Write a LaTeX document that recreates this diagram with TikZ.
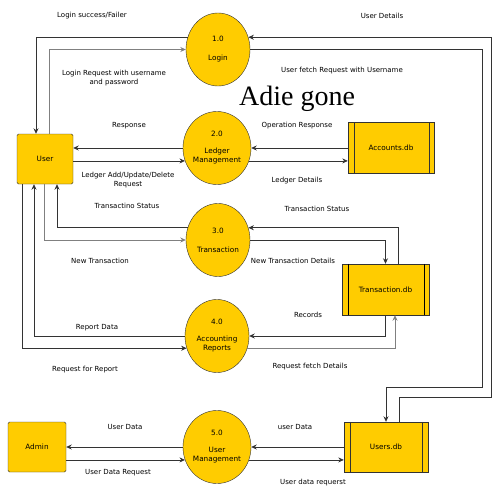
\documentclass[tikz,border=0pt]{standalone}
\usepackage{fontspec}
\setmainfont{DejaVu Sans}
\newfontfamily\serifbig{Liberation Serif}
\usetikzlibrary{shapes.geometric,arrows.meta}
\definecolor{gold}{HTML}{FFCC00}
\tikzset{
  proc/.style={ellipse,draw=black!80,fill=gold,minimum width=64pt,minimum height=73pt,inner sep=0pt,align=center,font=\fontsize{7.3}{9}\selectfont},
  ent/.style={draw=black!80,fill=gold,rounded corners=1.5pt,inner sep=0pt,font=\fontsize{7.3}{9}\selectfont},
  store/.style={draw=black!80,fill=gold,inner sep=0pt,font=\fontsize{7.3}{9}\selectfont},
  flow/.style={draw=black!80,line width=0.8pt,-{Stealth[length=5.5pt,width=5pt,inset=1.8pt]}},
  flowl/.style={draw=black!50,line width=0.8pt,-{Stealth[length=5.5pt,width=5pt,inset=1.8pt]}},
  lbl/.style={font=\fontsize{7}{8.5}\selectfont,align=center,inner sep=0pt},
}
\begin{document}
\begin{tikzpicture}[x=1pt,y=-1pt]
\useasboundingbox (0,0) rectangle (500,500);
% processes
\node[proc] (c1) at (218,49.5) {1.0\\[10pt]Login};
\node[proc] (c2) at (217,148) {2.0\\[8pt]Ledger\\Management};
\node[proc] (c3) at (218,240) {3.0\\[10pt]Transaction};
\node[proc] (c4) at (217,336) {4.0\\[8pt]Accounting\\Reports};
\node[proc] (c5) at (217,447) {5.0\\[8pt]User\\Management};
% entities
\node[ent,minimum width=56pt,minimum height=50pt] (user) at (45,159) {User};
\node[ent,minimum width=58pt,minimum height=50pt] (adm) at (37,447) {Admin};
% stores
\node[store,minimum width=86pt,minimum height=51pt] (acc) at (391,148) {Accounts.db};
\draw[black!80] ([xshift=6pt]acc.north west) -- ([xshift=6pt]acc.south west)
                ([xshift=-5pt]acc.north east) -- ([xshift=-5pt]acc.south east);
\node[store,minimum width=87pt,minimum height=51pt] (tdb) at (385.5,289.5) {Transaction.db};
\draw[black] ([xshift=6pt]tdb.north west) -- ([xshift=6pt]tdb.south west)
                ([xshift=-5pt]tdb.north east) -- ([xshift=-5pt]tdb.south east);
\node[store,minimum width=84pt,minimum height=50pt] (udb) at (386,447) {Users.db};
\draw[black!80] ([xshift=6pt]udb.north west) -- ([xshift=6pt]udb.south west)
                ([xshift=-6pt]udb.north east) -- ([xshift=-6pt]udb.south east);
% title
\node[inner sep=0pt,font=\serifbig\fontsize{28}{30}\selectfont] (title) at (297,99) {Adie gone};
% flows: user <-> login
\draw[flow] (c1.158) -| ([xshift=-9pt]user.north);
\draw[flowl] ([xshift=4pt]user.north) |- (c1.west);
% user <-> ledger
\draw[flow] (c2.west) -- (c2.west -| user.east);
\draw[flow] (c2.202 -| user.east) -- (c2.202);
% accounts
\draw[flow] (acc.west) -- (c2.east);
\draw[flow] (c2.338) -- (c2.338 -| acc.west);
% user <-> transaction
\draw[flow] (c3.158) -| ([xshift=12pt]user.south);
\draw[flowl] ([xshift=-1pt]user.south) |- (c3.west);
% user <-> reports
\draw[flow] (c4.west) -| ([xshift=-11pt]user.south);
\draw[flow] ([xshift=-23pt]user.south) |- (c4.202);
% transaction.db
\draw[flow] (c3.east) -| (tdb.north);
\draw[flow] ([xshift=12.5pt]tdb.north) |- (c3.22);
\draw[flow] (tdb.south) |- (c4.east);
\draw[flowl] (c4.338) -| ([xshift=9.5pt]tdb.south);
% users.db <-> login
\coordinate (f1) at (482,387);
\coordinate (d1) at (491,397);
\draw[flow] (c1.east) -| (f1) -| (udb.north);
\draw[flow] ([xshift=13pt]udb.north) |- (d1) |- (c1.22);
% user management
\draw[flow] (udb.west) -- (c5.east);
\draw[flow] (c5.338) -- (c5.338 -| udb.west);
\draw[flow] (c5.west) -- (adm.east);
\draw[flow] (c5.202 -| adm.east) -- (c5.202);
% labels
\node[lbl] (l1) at (92,16) {Login success/Failer};
\node[lbl] (l2) at (114,78) {Login Request with username\\and password};
\node[lbl] (l3) at (382,16) {User Details};
\node[lbl] (l4) at (342,71) {User fetch Request with Username};
\node[lbl] (l5) at (129,126) {Response};
\node[lbl] (l6) at (128,180) {Ledger Add/Update/Delete\\Request};
\node[lbl] (l7) at (297,126) {Operation Response};
\node[lbl] (l8) at (297,181) {Ledger Details};
\node[lbl] (l9) at (127,206) {Transactino Status};
\node[lbl] (l10) at (100,261) {New Transaction};
\node[lbl] (l11) at (317,209) {Transaction Status};
\node[lbl] (l12) at (293,261) {New Transaction Details};
\node[lbl] (l13) at (308,315) {Records};
\node[lbl] (l14) at (97,328) {Report Data};
\node[lbl] (l15) at (85,370) {Request for Report};
\node[lbl] (l16) at (310,367) {Request fetch Details};
\node[lbl] (l17) at (125,427) {User Data};
\node[lbl] (l18) at (118,473) {User Data Request};
\node[lbl] (l19) at (295,427) {user Data};
\node[lbl] (l20) at (313,483) {User data requerst};
\end{tikzpicture}
\end{document}
